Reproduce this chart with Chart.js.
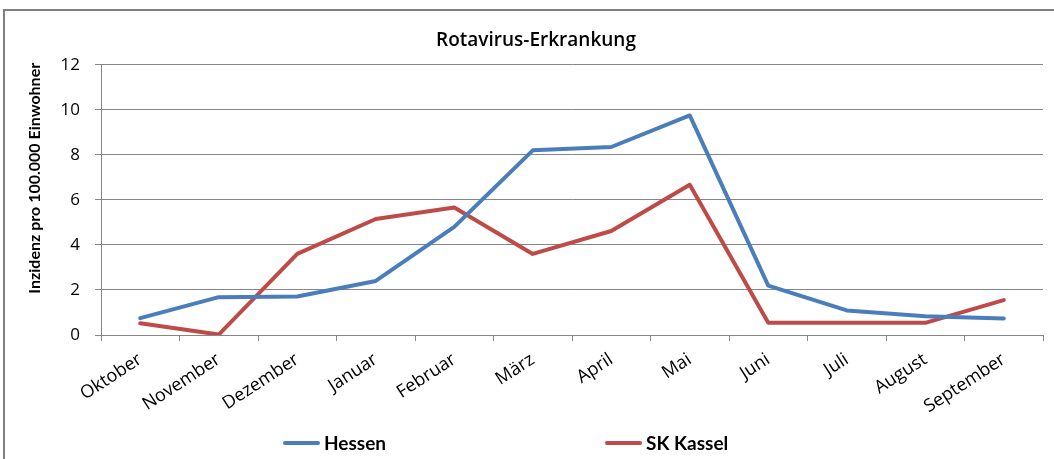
<!DOCTYPE html>
<html>
<head>
<meta charset="utf-8">
<script src="https://cdn.jsdelivr.net/npm/chart.js@4"></script>
<style>
  html, body { margin: 0; padding: 0; background: #fff; }
  #wrap { position: relative; width: 1054px; height: 459px; overflow: hidden; }
  #frame { position: absolute; left: 3px; top: 9px; width: 1200px; height: 600px;
           border-left: 2px solid #7f7f7f; border-top: 2px solid #7f7f7f; }
  canvas { position: absolute; left: 0; top: 0; }
  .leg { position: absolute; top: 431px; font: bold 19px Lato, sans-serif; color: #000;
         display: flex; align-items: center; }
  .leg span.ln { display: inline-block; width: 37px; height: 4px; border-radius: 2px; margin-right: 4px; }
</style>
</head>
<body>
<div id="wrap">
  <div id="frame"></div>
  <canvas id="rota" width="1054" height="459"></canvas>
</div>
<script>
// Daten
const months = ['Oktober', 'November', 'Dezember', 'Januar', 'Februar', 'März',
                'April', 'Mai', 'Juni', 'Juli', 'August', 'September'];
const hessen = [0.75, 1.68, 1.71, 2.4, 4.8, 8.2, 8.35, 9.75, 2.19, 1.09, 0.83, 0.73];
const kassel = [0.52, 0.02, 3.6, 5.15, 5.66, 3.6, 4.62, 6.67, 0.54, 0.54, 0.54, 1.55];
const yTicks = [0, 2, 4, 6, 8, 10, 12];
const yTitle = 'Inzidenz pro 100.000 Einwohner';

const blue = '#4a7ebb';
const red = '#be4b48';
const gridCol = '#868686';

// Achsentitel links, etwas oberhalb der Mitte wie im Original
const yTitlePlugin = {
  id: 'yTitle',
  afterDraw(chart) {
    const { ctx, chartArea } = chart;
    ctx.save();
    ctx.translate(35, chartArea.top + (chartArea.bottom - chartArea.top) * 0.42);
    ctx.rotate(-Math.PI / 2);
    ctx.font = 'bold 16px Lato';
    ctx.fillStyle = '#000';
    ctx.textAlign = 'center';
    ctx.textBaseline = 'middle';
    ctx.fillText(yTitle, 0, 0);
    ctx.restore();
  }
};

const chart = new Chart(document.getElementById('rota'), {
  type: 'line',
  data: {
    labels: months,
    datasets: [
      { label: 'Hessen', data: hessen, borderColor: blue, backgroundColor: blue },
      { label: 'SK Kassel', data: kassel, borderColor: red, backgroundColor: red }
    ]
  },
  plugins: [yTitlePlugin],
  options: {
    responsive: false,
    animation: false,
    layout: { padding: { left: 29, right: 11, top: 0, bottom: 34 } },
    elements: {
      line: { borderWidth: 4, tension: 0, borderCapStyle: 'round', borderJoinStyle: 'round' },
      point: { radius: 0 }
    },
    plugins: {
      legend: { display: false },
      tooltip: { enabled: false },
      title: {
        display: true,
        text: 'Rotavirus-Erkrankung',
        color: '#000',
        font: { family: 'Open Sans', size: 19, weight: '600' },
        padding: { top: 29, bottom: 13 }
      }
    },
    scales: {
      x: {
        offset: true,
        grid: { offset: true, drawOnChartArea: false, color: gridCol, tickLength: 6 },
        border: { color: gridCol },
        ticks: {
          color: '#000', font: { family: 'Open Sans', size: 18 },
          minRotation: 33, maxRotation: 33, padding: 8, autoSkip: false
        },
        afterFit: s => { s.height = 90; }
      },
      y: {
        min: 0, max: 12,
        afterBuildTicks: s => { s.ticks = yTicks.map(v => ({ value: v })); },
        grid: { color: gridCol, tickLength: 6 },
        border: { color: gridCol },
        ticks: { color: '#000', font: { family: 'Open Sans', size: 17 }, padding: 15 },
        afterFit: s => { s.width = 72; }
      }
    }
  }
});

// Legende als HTML, Farben aus den Datensätzen
const legLeft = [283, 605];
chart.data.datasets.forEach((ds, i) => {
  const d = document.createElement('div');
  d.className = 'leg';
  d.style.left = legLeft[i] + 'px';
  d.innerHTML = '<span class="ln" style="background:' + ds.borderColor + '"></span>' + ds.label;
  document.getElementById('wrap').appendChild(d);
});
</script>
</body>
</html>
